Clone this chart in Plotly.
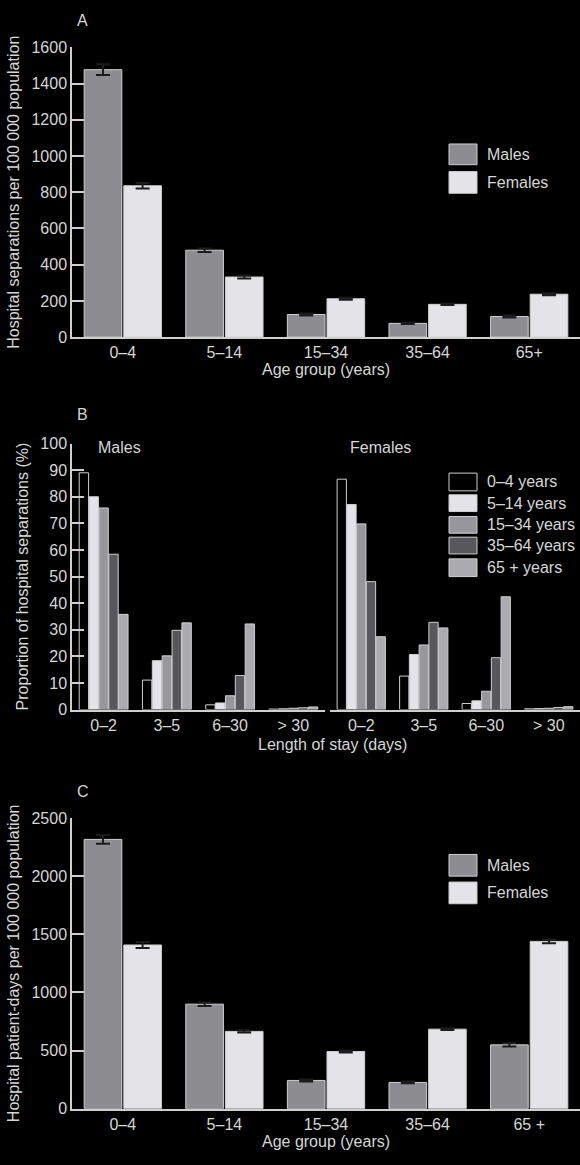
import plotly.graph_objects as go

# Panel A / C: age groups
age_a = ["0–4", "5–14", "15–34", "35–64", "65+"]
age_c = ["0–4", "5–14", "15–34", "35–64", "65 +"]

# A: hospital separations per 100 000 population
sep_males = [1477, 480, 125, 76, 114]
sep_males_err = [30, 10, 6, 4, 6]
sep_females = [836, 332, 212, 181, 237]
sep_females_err = [15, 8, 6, 4, 6]

# B: proportion of separations by length of stay (%)
stay = ["0–2", "3–5", "6–30", "> 30"]
stay_ages = ["0–4 years", "5–14 years", "15–34 years", "35–64 years", "65 + years"]
m_0_4 = [89.0, 11.1, 1.8, 0.2]
m_5_14 = [80.0, 18.4, 2.5, 0.3]
m_15_34 = [75.8, 20.2, 5.2, 0.5]
m_35_64 = [58.4, 29.8, 12.8, 0.7]
m_65 = [35.8, 32.6, 32.2, 1.0]
f_0_4 = [86.6, 12.6, 2.3, 0.3]
f_5_14 = [77.1, 20.7, 3.3, 0.4]
f_15_34 = [69.8, 24.3, 6.9, 0.5]
f_35_64 = [48.1, 32.8, 19.5, 0.8]
f_65 = [27.4, 30.7, 42.4, 1.1]

# C: hospital patient-days per 100 000 population
days_males = [2316, 899, 243, 226, 549]
days_males_err = [38, 15, 8, 8, 15]
days_females = [1408, 665, 492, 684, 1439]
days_females_err = [25, 10, 8, 8, 15]

W, H = 580, 1165
TXT = "#d6d6d6"
LINE = "#cfcfcf"
MALE = "#8d8d91"
FEMALE = "#e4e3e8"
stay_cols = ["#000000", "#e4e3e8", "#98989c", "#58585c", "#ababaf"]


def px(x):
    return x / W


def py(y):
    return 1 - y / H


fig = go.Figure()

err = dict(type="data", color="#1c1c1c", thickness=2, width=7)

# panel A
fig.add_bar(x=age_a, y=sep_males, name="Males", marker=dict(color=MALE, line=dict(color=LINE, width=1)),
            error_y=dict(array=sep_males_err, **err), xaxis="x", yaxis="y")
fig.add_bar(x=age_a, y=sep_females, name="Females", marker=dict(color=FEMALE, line=dict(color=LINE, width=1)),
            error_y=dict(array=sep_females_err, **err), xaxis="x", yaxis="y")

# panel B
for name, col, ym, yf in zip(stay_ages, stay_cols,
                             [m_0_4, m_5_14, m_15_34, m_35_64, m_65],
                             [f_0_4, f_5_14, f_15_34, f_35_64, f_65]):
    fig.add_bar(x=stay, y=ym, name=name, marker=dict(color=col, line=dict(color=LINE, width=1)),
                xaxis="x2", yaxis="y2")
    fig.add_bar(x=stay, y=yf, name=name, marker=dict(color=col, line=dict(color=LINE, width=1)),
                xaxis="x3", yaxis="y3")

# panel C
fig.add_bar(x=age_c, y=days_males, name="Males", marker=dict(color=MALE, line=dict(color=LINE, width=1)),
            error_y=dict(array=days_males_err, **err), xaxis="x4", yaxis="y4")
fig.add_bar(x=age_c, y=days_females, name="Females", marker=dict(color=FEMALE, line=dict(color=LINE, width=1)),
            error_y=dict(array=days_females_err, **err), xaxis="x4", yaxis="y4")

font = dict(family="Liberation Sans, Arial, sans-serif", size=16, color=TXT)
xax = dict(showline=True, linecolor=LINE, linewidth=1.5, ticks="", showgrid=False, zeroline=False,
           tickfont=font, title_font=font, fixedrange=True)
yax = dict(showline=True, linecolor=LINE, linewidth=1.5, ticks="inside", ticklen=12, tickcolor=LINE,
           tickwidth=1.5, showgrid=False, zeroline=False, tickfont=font, title_font=font)

fig.update_layout(
    width=W, height=H, margin=dict(l=0, r=0, t=0, b=0),
    paper_bgcolor="#000000", plot_bgcolor="#000000",
    font=font, showlegend=False, barmode="group", bargap=0.22, bargroupgap=0.05,
    xaxis=dict(xax, domain=[px(72), 1], anchor="y",
               title=dict(text="Age group (years)", standoff=4)),
    yaxis=dict(yax, domain=[py(334), py(40)], range=[0, 1600], dtick=200, anchor="x",
               title=dict(text="Hospital separations per 100 000 population", standoff=8)),
    xaxis2=dict(xax, domain=[px(72), px(325)], anchor="y2"),
    yaxis2=dict(yax, domain=[py(712), py(442)], range=[0, 100], dtick=10, anchor="x2",
                title=dict(text="Proportion of hospital separations (%)", standoff=8)),
    xaxis3=dict(xax, domain=[px(330), 1], anchor="y3"),
    yaxis3=dict(domain=[py(712), py(442)], range=[0, 100], anchor="x3", visible=False),
    xaxis4=dict(xax, domain=[px(72), 1], anchor="y4",
                title=dict(text="Age group (years)", standoff=4)),
    yaxis4=dict(yax, domain=[py(1117), py(822)], range=[0, 2500], dtick=500, anchor="x4",
                title=dict(text="Hospital patient-days per 100 000 population", standoff=8)),
)


def label(text, x, y, anchor="left"):
    fig.add_annotation(text=text, x=px(x), y=py(y), xref="paper", yref="paper",
                       xanchor=anchor, yanchor="middle", showarrow=False, font=font)


# x-axis title for panel B spans both subplots
label("Length of stay (days)", 332, 747, "center")

# panel letters and sub-panel labels
for letter, y in [("A", 13), ("B", 413), ("C", 795)]:
    label(letter, 75, y)
label("Males", 96, 446)
label("Females", 348, 446)


# hand-drawn legends (large swatches)
def legend_key(y0, y1, fill, text):
    fig.add_shape(type="rect", xref="paper", yref="paper", x0=px(449), x1=px(477), y0=py(y1), y1=py(y0),
                  fillcolor=fill, line=dict(color=LINE, width=1))
    label(text, 485, (y0 + y1) / 2)


legend_key(138, 159, MALE, "Males")
legend_key(166, 188, FEMALE, "Females")
for (y0, y1), col, name in zip([(472, 490), (494, 511), (516, 533), (537, 554), (559, 577)],
                               stay_cols, stay_ages):
    legend_key(y0, y1, col, name)
legend_key(859, 881, MALE, "Males")
legend_key(887, 909, FEMALE, "Females")

fig.write_html("out.html", config={"displayModeBar": False},
               post_script="document.body.style.margin='0';document.body.style.background='#000';")
